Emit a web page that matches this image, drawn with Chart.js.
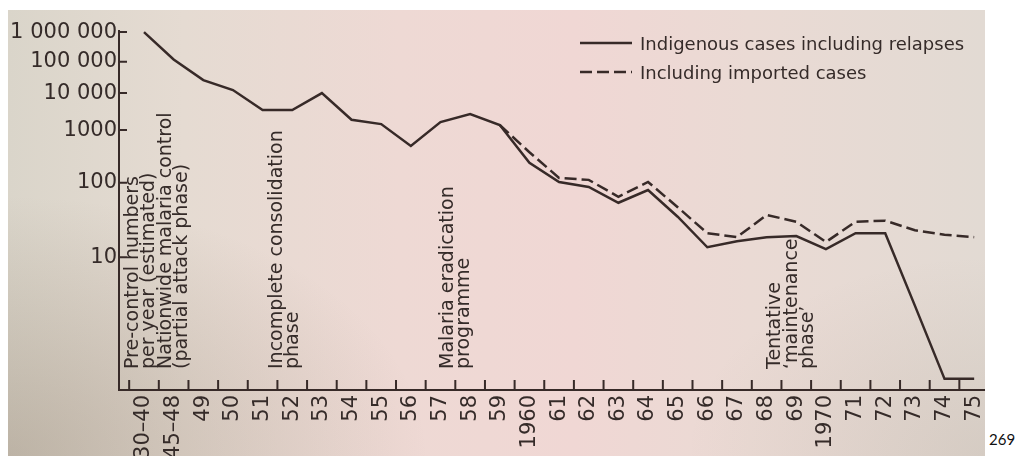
<!DOCTYPE html>
<html>
<head>
<meta charset="utf-8">
<title>Malaria cases, 1930–1975</title>
<script src="https://cdn.jsdelivr.net/npm/chart.js@4.4.1/dist/chart.umd.min.js"></script>
<style>
  html, body { margin: 0; padding: 0; }
  body { width: 1017px; height: 456px; overflow: hidden; background: #ffffff; position: relative; }
  #paper {
    position: absolute; left: 8px; top: 10px; width: 977px; height: 446px;
    background:
      radial-gradient(ellipse 420px 260px at 0% 100%, rgba(120,100,80,0.30), rgba(120,100,80,0) 100%),
      radial-gradient(ellipse 300px 200px at 100% 100%, rgba(120,100,80,0.12), rgba(120,100,80,0) 100%),
      linear-gradient(to right, #dad5ca 0%, #e5dbd2 18%, #eed9d4 40%, #f0d7d4 58%, #eadad4 76%, #e2dad3 100%);
  }
  #chart { position: absolute; left: 0; top: 0; }
  #edge { position: absolute; left: 985px; top: 0; width: 32px; height: 456px; background: #ffffff; }
  #folio { position: absolute; left: 989px; top: 430px; font: 15px Lato, 'Liberation Sans', sans-serif; color: #111; }
</style>
</head>
<body>
<div id="paper"></div>
<canvas id="chart" width="1017" height="456"></canvas>
<div id="edge"></div>
<div id="folio">269</div>
<script>
// Years on the horizontal axis
const CATEGORIES = ['1930–40', '1945–48', '49', '50', '51', '52', '53', '54', '55', '56', '57', '58', '59',
  '1960', '61', '62', '63', '64', '65', '66', '67', '68', '69', '1970', '71', '72', '73', '74', '75'];

// Indigenous cases including relapses
const INDIGENOUS_CASES = [1000000, 120000, 26000, 12500, 3500, 3500, 10000, 1900, 1450, 500, 1650, 2700, 1370,
  240, 104, 88, 54, 80, 35, 13.6, 16.4, 18.6, 19.2, 12.8, 21, 21, 4, 1, 1];

// Totals including imported cases (recorded from 1959 on)
const WITH_IMPORTED_CASES = [null, null, null, null, null, null, null, null, null, null, null, null, 1370,
  380, 124, 114, 65, 104, 47, 21, 18.6, 37, 30, 16, 30, 31, 23, 20, 18.6];

// Vertical axis ticks
const Y_TICK_VALUES = [10, 100, 1000, 10000, 100000, 1000000];
const Y_TICK_LABELS = ['10', '100', '1000', '10 000', '100 000', '1 000 000'];

// The printed case axis is logarithmic but its decades are not equally tall:
// each decade value sits at its own fraction of the axis height.
const SCALE_VALUES = [1, 10, 100, 1000, 10000, 100000, 1000000];
const SCALE_FRACTIONS = [0.031, 0.370, 0.577, 0.724, 0.827, 0.914, 0.997];

// Phase notes written up the chart, anchored to the year axis
const PHASE_NOTES = [
  { at: -0.38, lines: ['Pre-control numbers', 'per year (estimated)', 'Nationwide malaria control', '(partial attack phase)'] },
  { at: 4.48, lines: ['Incomplete consolidation', 'phase'] },
  { at: 10.25, lines: ['Malaria eradication', 'programme'] },
  { at: 21.3, lines: ['Tentative', '‘maintenance', 'phase’'] }
];

const INK = '#372a28';
const TEXT = '#352b29';
const FONT = "'DejaVu Sans', Verdana, sans-serif";

const LOGS = SCALE_VALUES.map(v => Math.log10(v));

function valueToFraction(v) {
  const l = Math.log10(Math.max(v, 1e-6));
  let i = 0;
  if (l >= LOGS[LOGS.length - 1]) i = LOGS.length - 2;
  else { while (i < LOGS.length - 2 && l > LOGS[i + 1]) i++; }
  const t = (l - LOGS[i]) / (LOGS[i + 1] - LOGS[i]);
  return SCALE_FRACTIONS[i] + t * (SCALE_FRACTIONS[i + 1] - SCALE_FRACTIONS[i]);
}

function fractionToValue(f) {
  let i = 0;
  if (f >= SCALE_FRACTIONS[SCALE_FRACTIONS.length - 1]) i = SCALE_FRACTIONS.length - 2;
  else { while (i < SCALE_FRACTIONS.length - 2 && f > SCALE_FRACTIONS[i + 1]) i++; }
  const t = (f - SCALE_FRACTIONS[i]) / (SCALE_FRACTIONS[i + 1] - SCALE_FRACTIONS[i]);
  return Math.pow(10, LOGS[i] + t * (LOGS[i + 1] - LOGS[i]));
}

// Logarithmic axis with individually sized decades
class DecadeScale extends Chart.LinearScale {
  determineDataLimits() {
    this.min = fractionToValue(0);
    this.max = fractionToValue(1);
  }
  buildTicks() {
    this.start = this.min;
    this.end = this.max;
    return Y_TICK_VALUES.map(v => ({ value: v }));
  }
  getPixelForValue(value) {
    return this.getPixelForDecimal(valueToFraction(value));
  }
  getValueForPixel(pixel) {
    return fractionToValue(this.getDecimalForPixel(pixel));
  }
}
DecadeScale.id = 'decade';
DecadeScale.defaults = Chart.LinearScale.defaults;
Chart.register(DecadeScale);

// Short tick marks pointing into the plot
const innerTicks = {
  id: 'innerTicks',
  afterDatasetsDraw(chart) {
    const { ctx, chartArea, scales } = chart;
    ctx.save();
    ctx.strokeStyle = INK;
    ctx.lineWidth = 2;
    ctx.beginPath();
    scales.y.ticks.forEach(t => {
      const y = scales.y.getPixelForValue(t.value);
      ctx.moveTo(chartArea.left, y);
      ctx.lineTo(chartArea.left + 8, y);
    });
    for (let i = 0; i < CATEGORIES.length; i++) {
      const x = scales.x.getPixelForValue(i - 0.5);
      ctx.moveTo(x, chartArea.bottom);
      ctx.lineTo(x, chartArea.bottom - 10);
    }
    ctx.stroke();
    ctx.restore();
  }
};

// Vertical phase notes
const phaseNotes = {
  id: 'phaseNotes',
  afterDatasetsDraw(chart) {
    const { ctx, chartArea, scales } = chart;
    ctx.save();
    ctx.fillStyle = TEXT;
    ctx.font = '19px ' + FONT;
    ctx.textAlign = 'left';
    ctx.textBaseline = 'middle';
    const startY = chartArea.bottom - 21;
    PHASE_NOTES.forEach(note => {
      const x0 = scales.x.getPixelForValue(note.at);
      note.lines.forEach((line, k) => {
        ctx.save();
        ctx.translate(x0 + k * 16.5, startY);
        ctx.rotate(-Math.PI / 2);
        ctx.fillText(line, 0, 0);
        ctx.restore();
      });
    });
    ctx.restore();
  }
};

// Key in the upper right
const seriesKey = {
  id: 'seriesKey',
  afterDatasetsDraw(chart) {
    const { ctx } = chart;
    const x0 = 580, x1 = 632, rows = [43, 72];
    ctx.save();
    chart.data.datasets.forEach((ds, i) => {
      const y = rows[i];
      ctx.strokeStyle = ds.borderColor;
      ctx.lineWidth = ds.borderWidth;
      ctx.setLineDash(ds.borderDash || []);
      ctx.beginPath();
      ctx.moveTo(x0, y);
      ctx.lineTo(x1, y);
      ctx.stroke();
      ctx.setLineDash([]);
      ctx.fillStyle = TEXT;
      ctx.font = '18px ' + FONT;
      ctx.textAlign = 'left';
      ctx.textBaseline = 'alphabetic';
      ctx.fillText(ds.label, 640, y + 7);
    });
    ctx.restore();
  }
};

const toPoints = arr => arr.map((y, i) => ({ x: i, y }));

new Chart(document.getElementById('chart'), {
  type: 'line',
  data: {
    datasets: [
      {
        label: 'Indigenous cases including relapses',
        data: toPoints(INDIGENOUS_CASES),
        borderColor: INK,
        borderWidth: 2.5,
        pointRadius: 0,
        tension: 0,
        clip: false
      },
      {
        label: 'Including imported cases',
        data: toPoints(WITH_IMPORTED_CASES),
        borderColor: INK,
        borderWidth: 2.5,
        borderDash: [12, 5],
        pointRadius: 0,
        tension: 0,
        clip: false
      }
    ]
  },
  options: {
    responsive: false,
    animation: false,
    devicePixelRatio: 1,
    layout: { padding: { top: 31, left: 0, right: 28, bottom: 0 } },
    plugins: {
      legend: { display: false },
      tooltip: { enabled: false }
    },
    scales: {
      x: {
        type: 'linear',
        min: -0.843,
        max: 28.5,
        afterBuildTicks: scale => { scale.ticks = CATEGORIES.map((_, i) => ({ value: i })); },
        afterFit: scale => { scale.height = 66; },
        grid: { display: false, drawTicks: false },
        border: { display: true, color: INK, width: 2 },
        ticks: {
          autoSkip: false,
          minRotation: 90,
          maxRotation: 90,
          padding: 5,
          color: TEXT,
          font: { family: FONT, size: 21 },
          callback: v => CATEGORIES[v] ?? ''
        }
      },
      y: {
        type: 'decade',
        afterFit: scale => { scale.width = 119; },
        grid: { display: false, drawTicks: false },
        border: { display: true, color: INK, width: 2 },
        ticks: {
          padding: 2,
          color: TEXT,
          font: { family: FONT, size: 21 },
          callback: (v, i) => Y_TICK_LABELS[i]
        }
      }
    }
  },
  plugins: [innerTicks, phaseNotes, seriesKey]
});
</script>
</body>
</html>
